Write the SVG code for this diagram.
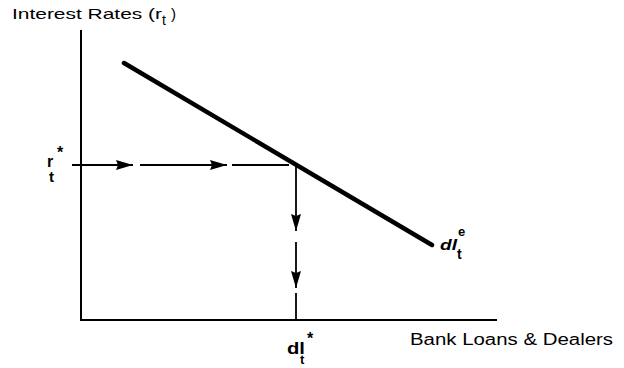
<svg xmlns="http://www.w3.org/2000/svg" width="624" height="368" viewBox="0 0 624 368">
<style>
.ax{stroke:#000;stroke-width:2;fill:none}
.dash{stroke:#000;stroke-width:1.8;fill:none}
.curve{stroke:#000;stroke-width:4.5;fill:none;stroke-linecap:round}
.lbl{font-family:"Liberation Sans",Arial,sans-serif;fill:#000}
.b{font-weight:bold}
</style>
<defs>
<marker id="ah" viewBox="0 0 17 10" refX="17" refY="5" markerWidth="17" markerHeight="10" markerUnits="userSpaceOnUse" orient="auto">
<path d="M0,0 L17,5 L0,10 L2,5 Z" fill="#000"/>
</marker>
</defs>
<rect width="624" height="368" fill="#fff"/>
<g id="axes">
<line class="ax" x1="81" y1="30" x2="81" y2="320"/>
<line class="ax" x1="80" y1="320" x2="497" y2="320"/>
</g>
<g id="demand-curve">
<line class="curve" x1="124" y1="63" x2="432" y2="245"/>
</g>
<g id="connectors">
<line class="dash" x1="72" y1="165" x2="133" y2="165" marker-end="url(#ah)"/>
<line class="dash" x1="140" y1="165" x2="227" y2="165" marker-end="url(#ah)"/>
<line class="dash" x1="232" y1="165" x2="289" y2="165"/>
<line class="dash" x1="296" y1="165" x2="296" y2="231" marker-end="url(#ah)"/>
<line class="dash" x1="296" y1="242" x2="296" y2="288" marker-end="url(#ah)"/>
<line class="dash" x1="296" y1="293" x2="296" y2="320"/>
</g>
<g id="y-label">
<text class="lbl" x="12" y="19" font-size="15" textLength="150" lengthAdjust="spacingAndGlyphs">Interest Rates (r</text>
<text class="lbl" x="162" y="25" font-size="14">t</text>
<text class="lbl" x="171" y="19" font-size="15">)</text>
</g>
<g id="r-star">
<text class="lbl b" x="47" y="167" font-size="16">r</text>
<text class="lbl b" x="49" y="182" font-size="15">t</text>
<text class="lbl b" x="57" y="158" font-size="16">*</text>
</g>
<g id="dl-star">
<text class="lbl b" x="287" y="354" font-size="16" textLength="18" lengthAdjust="spacingAndGlyphs">dl</text>
<text class="lbl b" x="300" y="364" font-size="13">t</text>
<text class="lbl b" x="307" y="344" font-size="16">*</text>
</g>
<g id="dl-e">
<text class="lbl b" x="440" y="250" font-size="15" font-style="italic" textLength="17" lengthAdjust="spacingAndGlyphs">dl</text>
<text class="lbl b" x="458" y="236" font-size="13">e</text>
<text class="lbl b" x="457" y="259" font-size="14">t</text>
</g>
<g id="x-label">
<text class="lbl" x="410" y="345" font-size="16" textLength="203" lengthAdjust="spacingAndGlyphs">Bank Loans &amp; Dealers</text>
</g>
</svg>
